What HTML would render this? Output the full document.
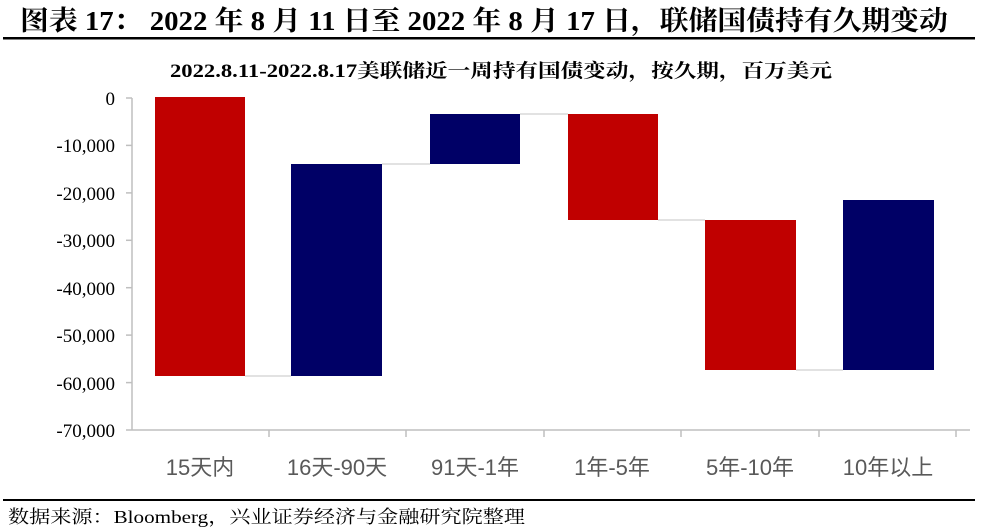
<!DOCTYPE html><html><head><meta charset="utf-8"><style>body{margin:0;background:#fff}svg{display:block}</style></head><body>
<svg width="988" height="530" xmlns="http://www.w3.org/2000/svg">
<text x="20" y="30" textLength="928" lengthAdjust="spacingAndGlyphs" font-family="Liberation Serif, Noto Serif CJK SC, serif" font-weight="bold" font-size="27" fill="#000">图表 17： 2022 年 8 月 11 日至 2022 年 8 月 17 日，联储国债持有久期变动</text>
<rect x="3" y="37" width="972" height="2.5" fill="#000"/>
<text x="170" y="77" textLength="662" lengthAdjust="spacingAndGlyphs" font-family="Liberation Serif, Noto Serif CJK SC, serif" font-weight="bold" font-size="19" fill="#000">2022.8.11-2022.8.17美联储近一周持有国债变动，按久期，百万美元</text>
<g stroke="#bfbfbf" stroke-width="1.5" fill="none">
<line x1="132" y1="98" x2="132" y2="430"/><line x1="132" y1="430" x2="970" y2="430"/>
<line x1="126" y1="98" x2="132" y2="98"/><line x1="126" y1="145.4" x2="132" y2="145.4"/><line x1="126" y1="192.9" x2="132" y2="192.9"/><line x1="126" y1="240.3" x2="132" y2="240.3"/><line x1="126" y1="287.7" x2="132" y2="287.7"/><line x1="126" y1="335.1" x2="132" y2="335.1"/><line x1="126" y1="382.6" x2="132" y2="382.6"/><line x1="126" y1="430" x2="132" y2="430"/>
<line x1="269" y1="430" x2="269" y2="437"/><line x1="406" y1="430" x2="406" y2="437"/><line x1="544" y1="430" x2="544" y2="437"/><line x1="681" y1="430" x2="681" y2="437"/><line x1="819" y1="430" x2="819" y2="437"/><line x1="956" y1="430" x2="956" y2="437"/>
</g>
<g stroke="#d9d9d9" stroke-width="1.5">
<line x1="245" y1="376" x2="291" y2="376"/><line x1="382" y1="164" x2="430" y2="164"/><line x1="520" y1="114" x2="568" y2="114"/><line x1="658" y1="220" x2="705" y2="220"/><line x1="796" y1="370" x2="843" y2="370"/>
</g>
<rect x="155" y="97" width="90" height="279" fill="#c00000"/>
<rect x="291" y="164" width="91" height="212" fill="#000066"/>
<rect x="430" y="114" width="90" height="50" fill="#000066"/>
<rect x="568" y="114" width="90" height="106" fill="#c00000"/>
<rect x="705" y="220" width="91" height="150" fill="#c00000"/>
<rect x="843" y="200" width="91" height="170" fill="#000066"/>
<g font-family="Liberation Serif, serif" font-size="19" fill="#000" text-anchor="end">
<text x="115" y="105">0</text><text x="115" y="152">-10,000</text><text x="115" y="200">-20,000</text><text x="115" y="247">-30,000</text><text x="115" y="295">-40,000</text><text x="115" y="342">-50,000</text><text x="115" y="390">-60,000</text><text x="115" y="437">-70,000</text>
</g>
<g font-family="Liberation Sans, Noto Sans CJK SC, sans-serif" font-size="22" fill="#595959" text-anchor="middle">
<text x="200" y="475">15天内</text><text x="337" y="475">16天-90天</text><text x="475" y="475">91天-1年</text><text x="612" y="475">1年-5年</text><text x="750" y="475">5年-10年</text><text x="888" y="475">10年以上</text>
</g>
<rect x="3" y="499" width="972" height="2" fill="#000"/>
<text x="8" y="523" textLength="517" lengthAdjust="spacingAndGlyphs" font-family="Liberation Serif, Noto Serif CJK SC, serif" font-size="18" fill="#000">数据来源：Bloomberg，兴业证券经济与金融研究院整理</text>
</svg></body></html>
